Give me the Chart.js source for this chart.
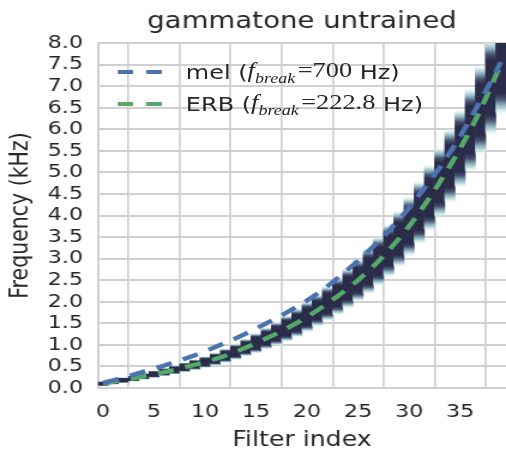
<!DOCTYPE html>
<html>
<head>
<meta charset="utf-8">
<script src="https://cdn.jsdelivr.net/npm/chart.js@4.4.1/dist/chart.umd.min.js"></script>
<style>
  html, body { margin: 0; padding: 0; background: #ffffff; overflow: hidden; }
  #outer { position: relative; width: 506px; height: 453px; overflow: hidden; }
  /* the reference figure is stretched horizontally; reproduce that by scaling the whole stage */
  #stage { position: absolute; left: 0; top: 0; width: 422px; height: 453px;
           transform: scaleX(1.19905); transform-origin: 0 0; }
  #legend { position: absolute; left: 0; top: 0; width: 422px; height: 453px; pointer-events: none; }
  .item { position: absolute; left: 98px; height: 30px; display: flex; align-items: center; white-space: nowrap;
          font-family: "DejaVu Sans", sans-serif; font-size: 20px; color: #262626; }
  .item svg { margin-right: 20px; }
  .m { font-family: "Liberation Serif", "DejaVu Serif", serif; font-size: 22px; }
  .m i { font-style: italic; }
  .m sub { font-size: 15px; font-style: italic; vertical-align: -6px; margin-right: 2px; }
</style>
</head>
<body>
<div id="outer">
  <div id="stage">
    <canvas id="c" width="422" height="453"></canvas>
    <div id="legend"></div>
  </div>
</div>
<script>
// ---------- data ----------
const filterIndex = [0,1,2,3,4,5,6,7,8,9,10,11,12,13,14,15,16,17,18,19,
                     20,21,22,23,24,25,26,27,28,29,30,31,32,33,34,35,36,37,38,39];
const xTickValues = [0,5,10,15,20,25,30,35];
const yTickValues = [0,0.5,1,1.5,2,2.5,3,3.5,4,4.5,5,5.5,6,6.5,7,7.5,8];

// mel-spaced centre frequencies (kHz), f_break = 700 Hz
const melCenters = [0.12,0.18,0.24,0.31,0.38,0.45,0.52,0.60,0.68,0.76,
                    0.85,0.95,1.05,1.15,1.26,1.38,1.50,1.62,1.75,1.89,
                    2.03,2.19,2.36,2.55,2.75,2.95,3.17,3.40,3.64,3.90,
                    4.18,4.48,4.79,5.11,5.46,5.83,6.24,6.66,7.10,7.56];
// ERB-spaced centre frequencies (kHz), f_break = 222.8 Hz
const erbCenters = [0.10,0.14,0.18,0.22,0.27,0.32,0.37,0.42,0.48,0.54,
                    0.60,0.67,0.75,0.84,0.94,1.04,1.15,1.26,1.38,1.51,
                    1.65,1.80,1.96,2.13,2.31,2.50,2.71,2.94,3.19,3.46,
                    3.75,4.07,4.41,4.77,5.15,5.55,5.98,6.45,6.97,7.52];
// visible half-width of each gammatone filter response (kHz)
const halfWidths = [0.06,0.065,0.07,0.075,0.08,0.09,0.10,0.11,0.12,0.13,
                    0.14,0.155,0.17,0.19,0.21,0.24,0.26,0.28,0.31,0.34,
                    0.36,0.38,0.41,0.44,0.47,0.50,0.54,0.58,0.62,0.66,
                    0.70,0.74,0.78,0.82,0.87,0.92,0.98,1.05,1.12,1.20];

const seriesNames = ['mel', 'ERB'];
const breakFreqs = ['700', '222.8'];
const seriesColors = ['#4C72B0', '#55A868'];

// ---------- chart ----------
const TEXT = '#262626';
const GRID = '#d0d0d0';
const CORE = 'rgb(43,43,74)';

function bandFill(ctx) {
  const chart = ctx.chart;
  if (!chart.chartArea || ctx.type !== 'data' || !ctx.raw) return CORE;
  const ys = chart.scales.y;
  const top = ys.getPixelForValue(ctx.raw.y[1]);
  const bot = ys.getPixelForValue(ctx.raw.y[0]);
  if (!isFinite(top) || !isFinite(bot) || bot - top < 1) return CORE;
  const g = chart.ctx.createLinearGradient(0, top, 0, bot);
  g.addColorStop(0.00, 'rgba(235,248,248,0)');
  g.addColorStop(0.05, 'rgba(205,230,232,0.9)');
  g.addColorStop(0.10, 'rgb(140,178,188)');
  g.addColorStop(0.16, 'rgb(72,82,114)');
  g.addColorStop(0.22, CORE);
  g.addColorStop(0.78, CORE);
  g.addColorStop(0.84, 'rgb(72,82,114)');
  g.addColorStop(0.90, 'rgb(140,178,188)');
  g.addColorStop(0.95, 'rgba(205,230,232,0.9)');
  g.addColorStop(1.00, 'rgba(235,248,248,0)');
  return g;
}

const lineDatasets = [melCenters, erbCenters].map((vals, s) => ({
  type: 'line',
  label: seriesNames[s],
  data: filterIndex.map((x, i) => ({ x: x, y: vals[i] })),
  borderColor: seriesColors[s],
  backgroundColor: seriesColors[s],
  borderWidth: 4.3,
  borderDash: [13.5, 10],
  borderCapStyle: 'butt',
  pointRadius: 0,
  fill: false,
  tension: 0,
  order: 0
}));

const bandDataset = {
  type: 'bar',
  label: 'gammatone filters',
  data: filterIndex.map((x, i) => ({ x: x, y: [erbCenters[i] - halfWidths[i], erbCenters[i] + halfWidths[i]] })),
  backgroundColor: bandFill,
  borderWidth: 0,
  barPercentage: 1.0,
  categoryPercentage: 1.0,
  order: 5
};

const tickFont = { family: 'DejaVu Sans', size: 18.5 };

const htmlLegend = {
  id: 'htmlLegend',
  afterUpdate(chart) {
    const box = document.getElementById('legend');
    box.innerHTML = '';
    const rowsY = [57, 89];
    chart.data.datasets.forEach((ds, i) => {
      if (ds.type !== 'line') return;
      const row = document.createElement('div');
      row.className = 'item';
      row.style.top = rowsY[i] + 'px';
      row.innerHTML =
        '<svg width="37" height="8"><line x1="0" y1="4" x2="37" y2="4" stroke="' + ds.borderColor +
        '" stroke-width="4" stroke-dasharray="13 11"/></svg>' +
        '<span>' + ds.label + ' (</span><span class="m"><i>f</i><sub>break</sub>=' + breakFreqs[i] +
        '</span><span>&nbsp;Hz)</span>';
      box.appendChild(row);
    });
  }
};

new Chart(document.getElementById('c'), {
  type: 'bar',
  data: { datasets: [lineDatasets[0], lineDatasets[1], bandDataset] },
  options: {
    responsive: false,
    animation: false,
    devicePixelRatio: 1,
    layout: { padding: 0 },
    plugins: {
      legend: { display: false },
      tooltip: { enabled: false },
      title: {
        display: true,
        fullSize: false,
        text: 'gammatone untrained',
        color: TEXT,
        font: { family: 'DejaVu Sans', size: 23, weight: 'normal', lineHeight: 1.2 },
        padding: { top: 8, bottom: 7.4 }
      }
    },
    scales: {
      x: {
        type: 'linear',
        min: -0.5,
        max: 39.5,
        offset: false,
        z: 1,
        afterBuildTicks: (s) => { s.ticks = xTickValues.map(v => ({ value: v })); },
        afterFit: (s) => { s.height = 65; },
        grid: { color: GRID, lineWidth: 1.7, drawTicks: false },
        border: { color: GRID, width: 1.7 },
        ticks: { color: TEXT, font: tickFont, padding: 13, maxRotation: 0, autoSkip: false,
                 callback: (v) => String(v) },
        title: { display: true, text: 'Filter index', color: TEXT,
                 font: { family: 'DejaVu Sans', size: 21, lineHeight: 1.0 }, padding: { top: 0, bottom: 2 } }
      },
      y: {
        type: 'linear',
        min: 0,
        max: 8,
        z: 1,
        afterBuildTicks: (s) => { s.ticks = yTickValues.map(v => ({ value: v })); },
        afterFit: (s) => { s.width = 81.7; },
        grid: { color: GRID, lineWidth: 2, drawTicks: false },
        border: { color: GRID, width: 2 },
        ticks: { color: TEXT, font: tickFont, padding: 12.5, autoSkip: false,
                 callback: (v) => Number(v).toFixed(1) },
        title: { display: true, text: 'Frequency (kHz)', color: TEXT,
                 font: { family: 'DejaVu Sans', size: 20.5, lineHeight: 1.0 }, padding: { top: 7, bottom: 0 } }
      }
    }
  },
  plugins: [htmlLegend]
});
</script>
</body>
</html>
